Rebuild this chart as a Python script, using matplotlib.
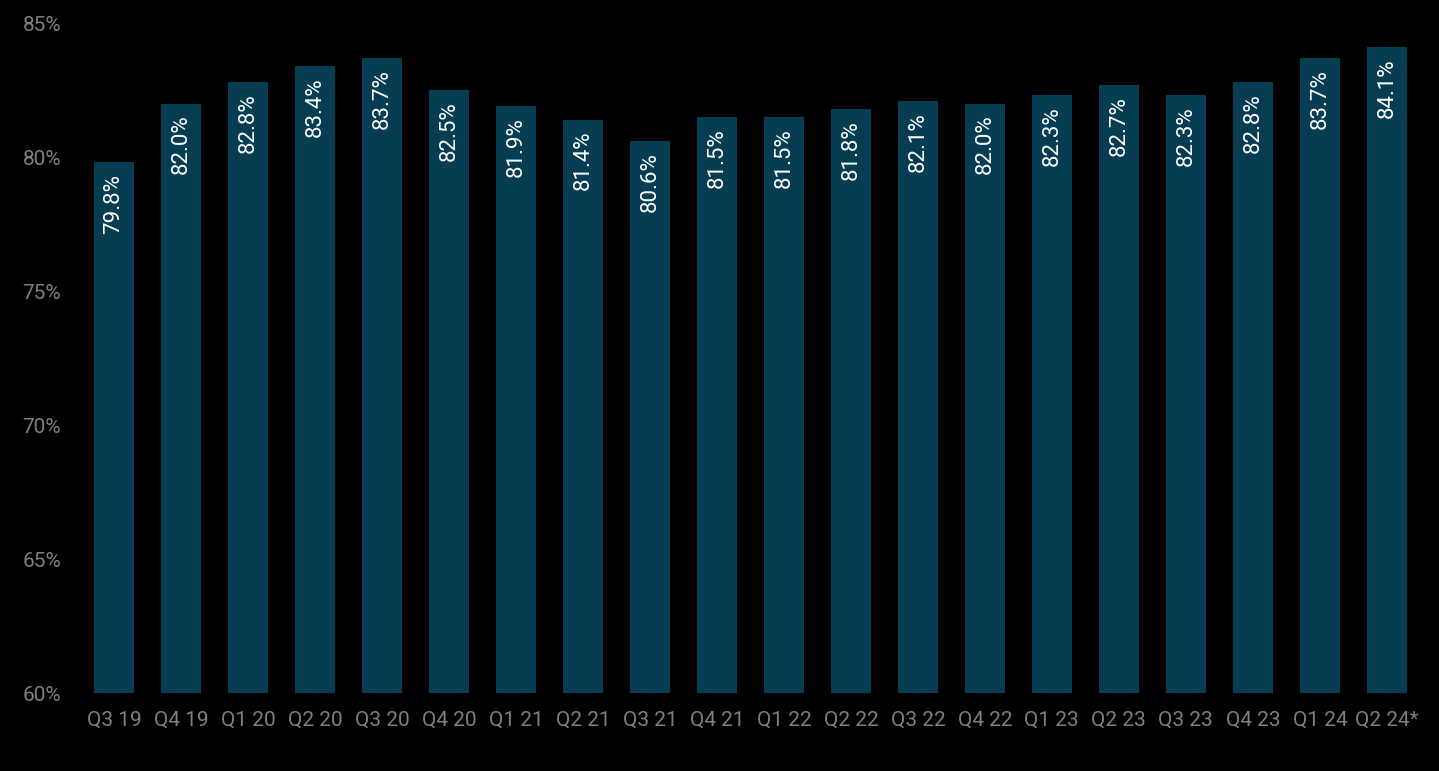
import matplotlib.pyplot as plt
from matplotlib.ticker import FuncFormatter

# Datos
quarters = ['Q3 19', 'Q4 19', 'Q1 20', 'Q2 20', 'Q3 20', 'Q4 20', 'Q1 21', 'Q2 21',
            'Q3 21', 'Q4 21', 'Q1 22', 'Q2 22', 'Q3 22', 'Q4 22', 'Q1 23', 'Q2 23',
            'Q3 23', 'Q4 23', 'Q1 24', 'Q2 24*']
values = [79.8, 82.0, 82.8, 83.4, 83.7, 82.5, 81.9, 81.4, 80.6, 81.5,
          81.5, 81.8, 82.1, 82.0, 82.3, 82.7, 82.3, 82.8, 83.7, 84.1]

BAR_COLOR = '#063d52'
TICK_COLOR = '#7f7f7f'

plt.rcParams['font.family'] = ['Roboto', 'DejaVu Sans']

fig = plt.figure(figsize=(14.39, 7.71), dpi=100, facecolor='black')
ax = fig.add_axes([0.056, 0.101, 0.931, 0.869], facecolor='black')

x = range(len(quarters))
ax.bar(x, values, width=0.6, color=BAR_COLOR)

for i, v in zip(x, values):
    ax.annotate(f'{v:.1f}%', xy=(i, v), xytext=(0, -8), textcoords='offset points',
                rotation=90, ha='center', va='top', color='white', fontsize=16)

ax.set_ylim(60, 85)
ax.set_xlim(-0.5, len(quarters) - 0.5)
ax.set_yticks([60, 65, 70, 75, 80, 85])
ax.yaxis.set_major_formatter(FuncFormatter(lambda v, p: f'{v:.0f}%'))
ax.set_xticks(list(x))
ax.set_xticklabels(quarters)
ax.tick_params(axis='both', length=0, colors=TICK_COLOR, labelsize=15)
ax.tick_params(axis='y', pad=14)
ax.tick_params(axis='x', pad=13)
for s in ax.spines.values():
    s.set_visible(False)

fig.savefig('out.png', dpi=100, facecolor='black')
